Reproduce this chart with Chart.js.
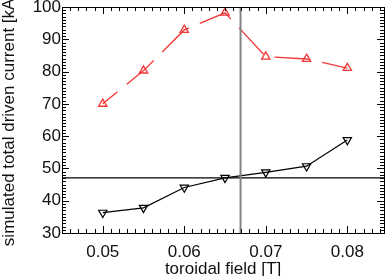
<!DOCTYPE html>
<html>
<head>
<meta charset="utf-8">
<script src="https://cdn.jsdelivr.net/npm/chart.js@4/dist/chart.umd.min.js"></script>
<style>
  html, body { margin: 0; padding: 0; background: #fff; }
  #wrap { width: 391px; height: 276px; }
</style>
</head>
<body>
<div id="wrap"><canvas id="chart1" width="391" height="276"></canvas></div>
<script>
// toroidal field [T]
const field = [0.05, 0.055, 0.06, 0.065, 0.07, 0.075, 0.08];
// simulated total driven current [kA]
const currentUp = [70.0, 80.3, 92.9, 98.2, 84.6, 83.9, 81.1];
const currentDown = [36.3, 37.8, 44.1, 47.1, 48.8, 50.7, 58.8];
// reference lines
const refField = 0.0669;
const refCurrent = 47.1;
// axes
const xRange = [0.045, 0.0845];
const yRange = [30, 100];
const xTicks = [0.05, 0.06, 0.07, 0.08];
const yTicks = [30, 40, 50, 60, 70, 80, 90, 100];

const pts = (ys) => field.map((f, i) => ({ x: f, y: ys[i] }));

Chart.defaults.font.family = "'Liberation Sans', Arial, Helvetica, sans-serif";
Chart.defaults.font.size = 17;
Chart.defaults.color = "#111";

// inward ticks on all four sides + frame
const boxTicks = {
  id: "boxTicks",
  afterDatasetsDraw(chart) {
    const { ctx, chartArea: a, scales: { x, y } } = chart;
    ctx.save();
    ctx.strokeStyle = "#000";
    ctx.lineWidth = 1;
    ctx.beginPath();
    for (let i = 45; i <= 84; i++) {
      const px = Math.round(x.getPixelForValue(i / 1000)) + 0.5;
      const len = i % 10 === 0 ? 7 : 4;
      ctx.moveTo(px, a.bottom); ctx.lineTo(px, a.bottom - len);
      ctx.moveTo(px, a.top); ctx.lineTo(px, a.top + len);
    }
    for (let v = yRange[0]; v <= yRange[1]; v++) {
      const py = Math.round(y.getPixelForValue(v)) + 0.5;
      const len = v % 10 === 0 ? 7 : 4;
      ctx.moveTo(a.left, py); ctx.lineTo(a.left + len, py);
      ctx.moveTo(a.right, py); ctx.lineTo(a.right - len, py);
    }
    ctx.stroke();
    ctx.strokeRect(Math.round(a.left) + 0.5, Math.round(a.top) + 0.5,
      Math.round(a.right - a.left), Math.round(a.bottom - a.top));
    ctx.restore();
  },
};

const chart1 = new Chart(document.getElementById("chart1").getContext("2d"), {
  type: "line",
  data: {
    datasets: [
      {
        data: [{ x: refField, y: yRange[0] }, { x: refField, y: yRange[1] }],
        borderColor: "rgb(130,130,130)",
        borderWidth: 2,
        pointRadius: 0,
      },
      {
        data: [{ x: xRange[0], y: refCurrent }, { x: xRange[1], y: refCurrent }],
        borderColor: "#000",
        borderWidth: 1.2,
        pointRadius: 0,
      },
      {
        data: pts(currentDown),
        borderColor: "#000",
        borderWidth: 1.2,
        pointStyle: "triangle",
        rotation: 180,
        pointRadius: 4.8,
        pointBorderWidth: 1.2,
        pointBorderColor: "#000",
        pointBackgroundColor: "rgba(0,0,0,0)",
      },
      {
        data: pts(currentUp),
        borderColor: "rgb(240,55,55)",
        borderWidth: 1.3,
        borderDash: [36, 12],
        borderDashOffset: 17,
        pointStyle: "triangle",
        pointRadius: 4.8,
        pointBorderWidth: 1.3,
        pointBorderColor: "rgb(240,55,55)",
        pointBackgroundColor: "rgba(0,0,0,0)",
      },
    ],
  },
  options: {
    responsive: false,
    animation: false,
    events: [],
    layout: { padding: { top: 7, right: 7, left: 0, bottom: 0 } },
    plugins: { legend: { display: false }, tooltip: { enabled: false } },
    scales: {
      x: {
        type: "linear",
        min: xRange[0],
        max: xRange[1],
        grid: { display: false, drawTicks: false },
        border: { display: false },
        afterBuildTicks: (s) => { s.ticks = xTicks.map((v) => ({ value: v })); },
        afterFit: (s) => { s.height = 43; s.paddingLeft = 0; s.paddingRight = 0; },
        ticks: { padding: 9, maxRotation: 0, callback: (v) => v.toFixed(2) },
        title: {
          display: true,
          text: "toroidal field [T]",
          color: "#111",
          font: { size: 17 },
          padding: { top: 0, bottom: -4 },
        },
      },
      y: {
        min: yRange[0],
        max: yRange[1],
        grid: { display: false, drawTicks: false },
        border: { display: false },
        afterBuildTicks: (s) => { s.ticks = yTicks.map((v) => ({ value: v })); },
        afterFit: (s) => { s.width = 62; s.paddingTop = 0; s.paddingBottom = 0; },
        ticks: { padding: 1 },
        title: {
          display: true,
          text: "simulated total driven current [kA]",
          color: "#111",
          font: { size: 17 },
          padding: { top: -1, bottom: 0 },
        },
      },
    },
  },
  plugins: [boxTicks],
});
</script>
</body>
</html>
